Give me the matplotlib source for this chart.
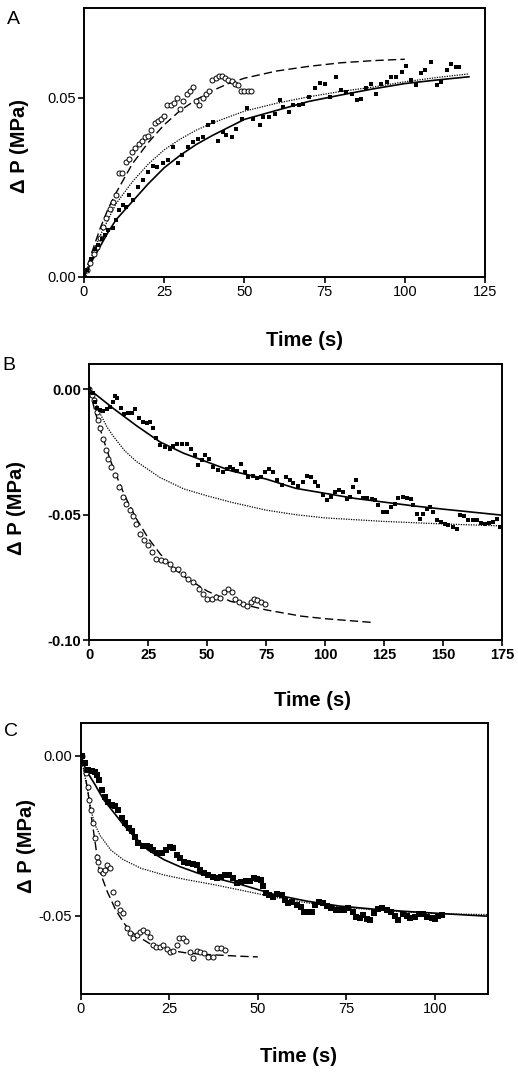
import matplotlib
matplotlib.use("Agg")
import matplotlib.pyplot as plt

plt.rcParams['font.family'] = ['Liberation Sans', 'DejaVu Sans']
plt.rcParams['axes.unicode_minus'] = False

# ---------------- panel A ----------------
a_open_t = [0, 1, 2, 3, 4, 5, 6, 7, 8, 9, 10, 11, 12, 13, 14, 15, 16, 17, 18, 19, 20,
            21, 22, 23, 24, 25, 26, 27, 28, 29, 30, 31, 32, 33, 34, 35, 36, 37, 38, 39, 40,
            41, 42, 43, 44, 45, 46, 47, 48, 49, 50, 51, 52]
a_open_p = [0.000, 0.002, 0.004, 0.0065, 0.0085, 0.011, 0.014, 0.0165, 0.019, 0.021, 0.023,
            0.029, 0.029, 0.032, 0.033, 0.035, 0.036, 0.037, 0.038, 0.039, 0.0395,
            0.041, 0.043, 0.0435, 0.044, 0.045, 0.048, 0.048, 0.0485, 0.050, 0.047,
            0.049, 0.051, 0.052, 0.053, 0.049, 0.048, 0.050, 0.051, 0.052, 0.055,
            0.0555, 0.056, 0.056, 0.0555, 0.055, 0.0548, 0.054, 0.0535, 0.052, 0.052, 0.052, 0.052]

a_fill_t = [0, 1, 2.2, 3.4, 4.5, 5.5, 6.5, 7.6, 8.9, 10, 11, 12.2, 13, 14.1, 15.4, 16.9, 18.5,
            20, 21.6, 22.6, 24.5, 26.3, 27.6, 29.4, 30.7, 32.3, 34, 35.6, 37.2, 38.7, 40.2,
            41.8, 43.2, 44.4, 46, 47.3, 49.1, 50.7, 52.7, 54.8, 55.9, 57.7, 59.5, 61, 62,
            64, 65.2, 67, 68.3, 70, 72, 73.5, 75, 76.6, 78.7, 80.2, 81.8, 83.4, 85, 86.5,
            88, 89.6, 91, 92.7, 94.3, 95.8, 97.4, 99, 100.5, 102, 103.6, 104.9, 106.2,
            108.3, 110, 111.4, 113, 114.5, 116, 117]
a_fill_p = [0.0, 0.0019, 0.005, 0.0079, 0.0088, 0.0107, 0.0118, 0.013, 0.0138, 0.0158, 0.0186,
            0.020, 0.0195, 0.0228, 0.0216, 0.025, 0.027, 0.0293, 0.031, 0.0307, 0.0318,
            0.0326, 0.0363, 0.0317, 0.034, 0.0363, 0.0377, 0.0386, 0.039, 0.0424, 0.0432,
            0.038, 0.0405, 0.0396, 0.039, 0.0414, 0.0442, 0.0473, 0.0442, 0.0424, 0.0447,
            0.0447, 0.0456, 0.0493, 0.0475, 0.046, 0.048, 0.048, 0.0484, 0.0503, 0.0529,
            0.0542, 0.054, 0.0503, 0.0559, 0.0523, 0.0517, 0.0512, 0.0493, 0.0498, 0.0529,
            0.054, 0.0512, 0.054, 0.0545, 0.0559, 0.0559, 0.0573, 0.059, 0.055, 0.0535,
            0.057, 0.0577, 0.060, 0.0535, 0.0545, 0.0577, 0.0596, 0.0587, 0.0587]

a_dash_t = [0, 2.5, 5, 7.5, 10, 15, 20, 25, 30, 35, 40, 45, 50, 60, 70, 80, 90, 100]
a_dash_p = [0, 0.007, 0.0135, 0.019, 0.0235, 0.0315, 0.0375, 0.0425, 0.0465, 0.0495, 0.052,
            0.054, 0.0555, 0.0575, 0.0588, 0.0598, 0.0604, 0.0608]

a_solid_t = [0, 2.5, 5, 7.5, 10, 15, 20, 25, 30, 35, 40, 50, 60, 70, 80, 90, 100, 110, 120]
a_solid_p = [0, 0.0045, 0.0085, 0.0125, 0.016, 0.021, 0.026, 0.0305, 0.034, 0.037, 0.0395,
             0.044, 0.0465, 0.049, 0.0508, 0.0525, 0.054, 0.055, 0.0559]

a_dot_t = [0, 2.5, 5, 7.5, 10, 15, 20, 25, 30, 35, 40, 50, 60, 70, 80, 90, 100, 110, 120]
a_dot_p = [0, 0.006, 0.0115, 0.016, 0.0205, 0.0265, 0.0315, 0.0355, 0.0385, 0.041, 0.043,
           0.0463, 0.0485, 0.0503, 0.0518, 0.053, 0.0545, 0.0557, 0.0567]

# ---------------- panel B ----------------
b_open_t = [0, 1, 2, 3.1, 3.8, 4.5, 5.9, 7.1, 8, 9.2, 10.9, 12.7, 14.1, 15.5, 17.2, 18.4, 20,
            21.5, 23.2, 25, 26.4, 28.3, 30.2, 32.1, 34.2, 35.6, 37.7, 39.9, 42, 44.1, 46.6,
            48.3, 50, 51.9, 53.7, 55.4, 57.1, 59, 60.4, 61.8, 63.6, 65.3, 66.7, 68.4, 69.8,
            71.2, 73, 74.5]
b_open_p = [0, -0.0023, -0.0043, -0.0089, -0.0123, -0.0156, -0.020, -0.0243, -0.0276, -0.031,
            -0.034, -0.039, -0.043, -0.0456, -0.048, -0.0507, -0.0536, -0.0576, -0.060, -0.0623,
            -0.065, -0.0676, -0.068, -0.0683, -0.0696, -0.0716, -0.0716, -0.0736, -0.0756,
            -0.077, -0.0796, -0.0816, -0.0836, -0.0836, -0.0827, -0.0832, -0.081, -0.0796,
            -0.081, -0.0836, -0.085, -0.0856, -0.0863, -0.085, -0.0836, -0.084, -0.085, -0.0856]

b_fill_t = [0, 1.4, 2.4, 3.4, 4.5, 5.9, 7.4, 8.8, 9.9, 10.9, 11.9, 13.3, 14.7, 16.5, 17.9, 19.4,
            21.2, 22.9, 24.3, 25.7, 26.8, 28.3, 30, 32.1, 34.2, 35.6, 37, 39.2, 41.3, 43, 44.8,
            46.3, 47.6, 49, 50.9, 52.6, 54.7, 56.6, 58.3, 59.7, 61.1, 62.8, 64.2, 66, 67.4,
            69.3, 71, 72.7, 74.5, 76.3, 78, 79.7, 81.5, 83.3, 85.1, 86.5, 88.6, 90.5, 92.2,
            93.9, 95.7, 97.1, 99, 100.6, 102.3, 104.2, 106, 107.7, 109.1, 110.5, 111.7, 113.1,
            114.5, 116.2, 117.9, 119.7, 121.2, 122.6, 124.4, 126.1, 127.8, 129.6, 131, 132.9,
            134.6, 136.3, 137.4, 138.8, 140.2, 141.6, 143.1, 144.5, 145.9, 147.3, 149, 150.8,
            152.2, 154.1, 155.8, 157.2, 158.9, 160.7, 162.6, 164.3, 165.9, 167.8, 169.6, 171.3,
            172.7, 174.2]
b_fill_p = [0, -0.0016, -0.005, -0.0076, -0.0083, -0.0085, -0.008, -0.007, -0.005, -0.0027,
            -0.0036, -0.0076, -0.0099, -0.0096, -0.0093, -0.008, -0.0116, -0.0129, -0.0136,
            -0.0129, -0.0156, -0.0196, -0.0223, -0.023, -0.024, -0.0227, -0.0219, -0.0219,
            -0.0219, -0.024, -0.0263, -0.0303, -0.0283, -0.0263, -0.0276, -0.0309, -0.0323,
            -0.033, -0.0316, -0.0309, -0.0316, -0.0325, -0.0296, -0.033, -0.035, -0.0347,
            -0.0352, -0.0349, -0.033, -0.0316, -0.033, -0.0363, -0.0383, -0.0349, -0.036,
            -0.0373, -0.0387, -0.037, -0.0347, -0.0349, -0.037, -0.0387, -0.0423, -0.0443,
            -0.043, -0.041, -0.0403, -0.041, -0.0436, -0.043, -0.039, -0.0363, -0.041, -0.0432,
            -0.0432, -0.0436, -0.0443, -0.0463, -0.049, -0.049, -0.047, -0.0456, -0.0432,
            -0.043, -0.0432, -0.0436, -0.0463, -0.0496, -0.0516, -0.0496, -0.0476, -0.047,
            -0.049, -0.0523, -0.0529, -0.0536, -0.0543, -0.0549, -0.0556, -0.0503, -0.0507,
            -0.052, -0.0523, -0.0523, -0.0533, -0.0539, -0.0533, -0.0529, -0.0516, -0.0549]

b_dash_t = [0, 2.5, 5, 7.5, 10, 15, 20, 25, 30, 35, 40, 50, 60, 75, 90, 100, 120]
b_dash_p = [0, -0.009, -0.017, -0.0244, -0.031, -0.0424, -0.0517, -0.0594, -0.0656, -0.0707,
            -0.0745, -0.0805, -0.0846, -0.088, -0.0905, -0.0915, -0.093]

b_solid_t = [0, 10, 20, 30, 40, 50, 60, 75, 87.5, 100, 112.5, 125, 137.5, 150, 162.5, 175]
b_solid_p = [0, -0.0075, -0.0145, -0.021, -0.0255, -0.029, -0.0325, -0.0358, -0.0395, -0.0415,
             -0.0435, -0.045, -0.0465, -0.0478, -0.049, -0.0502]

b_dot_t = [0, 2.5, 5, 7.5, 10, 15, 20, 25, 30, 40, 50, 60, 75, 87.5, 100, 125, 150, 175]
b_dot_p = [0, -0.005, -0.0105, -0.015, -0.0185, -0.0245, -0.0288, -0.032, -0.0352, -0.0397,
           -0.0425, -0.045, -0.0482, -0.050, -0.0513, -0.0527, -0.0537, -0.0545]

# ---------------- panel C ----------------
c_open_t = [0.3, 1.5, 2.2, 2.4, 2.8, 3.6, 4, 4.5, 5, 5.5, 6.4, 6.9, 7.5, 8.3, 9.2, 10.2, 11.1,
            11.9, 13, 13.9, 14.9, 15.8, 16.7, 17.7, 18.8, 19.6, 20.5, 21.4, 22.4, 23.3, 24.3,
            25.2, 26.2, 27.1, 27.8, 28.8, 29.7, 30.9, 31.8, 32.7, 33.7, 34.8, 36, 37.3, 38.4,
            39.5, 40.7]
c_open_p = [0, -0.0055, -0.0097, -0.0139, -0.017, -0.0211, -0.0258, -0.0316, -0.0331, -0.0357,
            -0.0368, -0.0357, -0.0342, -0.0352, -0.0425, -0.0461, -0.0482, -0.0493, -0.054,
            -0.0555, -0.0571, -0.056, -0.055, -0.0545, -0.055, -0.0566, -0.0592, -0.0599,
            -0.0597, -0.0592, -0.0605, -0.0613, -0.061, -0.0592, -0.0571, -0.0571, -0.0578,
            -0.0613, -0.0633, -0.061, -0.0613, -0.0618, -0.0628, -0.0628, -0.0602, -0.0602,
            -0.0607]

c_fill_t = [0.3, 1.2, 2.2, 3.1, 4, 4.7, 5.3, 5.9, 6.9, 7.8, 8.7, 9.7, 10.6, 11.6, 12.5, 13.5,
            14.4, 15.3, 16.3, 17.5, 18.6, 19.6, 20.5, 21.6, 22.9, 24.1, 25.2, 26.2, 27.1, 28,
            29.2, 30.4, 31.6, 32.7, 33.7, 34.8, 36, 37.3, 38.4, 39.5, 40.7, 42, 43.1, 44.2,
            45.4, 46.7, 47.8, 48.9, 49.9, 50.8, 51.6, 52.3, 53.2, 54.4, 55.5, 56.7, 57.7,
            58.6, 59.8, 61, 62.1, 63, 64.3, 65.2, 66.1, 67.4, 68.5, 69.6, 70.8, 72.1, 73.2,
            74.3, 75.5, 76.8, 77.7, 78.8, 79.8, 80.7, 81.7, 82.8, 84, 85.2, 86.4, 87.5, 88.7,
            89.7, 90.9, 92, 93.1, 94.4, 95.6, 96.7, 97.8, 99.1, 100, 101, 101.9]
c_fill_p = [0, -0.0024, -0.0045, -0.0047, -0.005, -0.006, -0.0076, -0.0107, -0.0128, -0.0144,
            -0.0154, -0.0157, -0.017, -0.0196, -0.0211, -0.0227, -0.0237, -0.0253, -0.0274,
            -0.0282, -0.0282, -0.0284, -0.0295, -0.0305, -0.0305, -0.0295, -0.0284, -0.029,
            -0.031, -0.0321, -0.0331, -0.0336, -0.0339, -0.0342, -0.0357, -0.0366, -0.0373,
            -0.038, -0.0383, -0.0378, -0.0373, -0.0373, -0.0383, -0.0397, -0.0394, -0.0391,
            -0.0391, -0.0383, -0.0386, -0.0389, -0.0409, -0.043, -0.0435, -0.0443, -0.0432,
            -0.0435, -0.0451, -0.0461, -0.0459, -0.0467, -0.0472, -0.049, -0.049, -0.049,
            -0.0467, -0.0456, -0.0461, -0.047, -0.0477, -0.0482, -0.0484, -0.0482, -0.0477,
            -0.049, -0.0503, -0.0508, -0.0498, -0.0511, -0.0514, -0.0493, -0.048, -0.0477,
            -0.0482, -0.049, -0.0501, -0.0514, -0.0495, -0.0501, -0.0508, -0.0505, -0.0495,
            -0.0495, -0.0503, -0.0508, -0.0511, -0.0501, -0.0498]

c_dash_t = [0, 1, 2, 3, 4, 5, 6, 7.5, 10, 12.5, 15, 20, 25, 30, 35, 40, 45, 50]
c_dash_p = [0, -0.0045, -0.011, -0.019, -0.0265, -0.0345, -0.038, -0.0425, -0.0485, -0.0528,
            -0.0557, -0.0591, -0.0608, -0.0617, -0.0621, -0.0624, -0.0627, -0.0629]

c_solid_t = [0, 1.5, 4, 6.5, 9.5, 12, 15, 19, 23.5, 28, 33, 38, 45, 55, 64, 73, 83, 92, 101, 115]
c_solid_p = [0, -0.0045, -0.009, -0.0138, -0.018, -0.0215, -0.0252, -0.0295, -0.0325, -0.0347,
             -0.0367, -0.0383, -0.0402, -0.0435, -0.0455, -0.047, -0.048, -0.0487, -0.0493,
             -0.0502]

c_dot_t = [0, 1, 2, 3, 4, 5.5, 8.5, 12, 17, 23.5, 30, 37.5, 45, 55, 64, 73, 83, 92, 101, 115]
c_dot_p = [0, -0.0055, -0.011, -0.0175, -0.0215, -0.025, -0.0295, -0.0325, -0.0352, -0.0373,
           -0.0388, -0.0403, -0.042, -0.0443, -0.046, -0.0473, -0.0482, -0.0489, -0.0494,
           -0.0497]

W, H = 518, 1075
fig = plt.figure(figsize=(W / 100, H / 100), dpi=100)


def px_axes(l, t, r, b):
    return fig.add_axes([l / W, 1 - b / H, (r - l) / W, (b - t) / H])


def draw(ax, ot, op, ft, fp, dt, dp, st, sp, qt, qp, xlim, ylim, xticks, yticks,
         bold=False, sq=3.2):
    ax.plot(st, sp, color='black', lw=1.2, ls='-')
    ax.plot(qt, qp, color='black', lw=0.9, ls=(0, (1, 1)))
    ax.plot(dt, dp, color='black', lw=1.0, ls=(0, (6, 3)))
    ax.plot(ot, op, ls='none', marker='o', ms=3.6, mfc='white', mec='black', mew=0.7)
    ax.plot(ft, fp, ls='none', marker='s', ms=sq, mfc='black', mec='black', mew=0)
    ax.set_xlim(*xlim)
    ax.set_ylim(*ylim)
    ax.set_xticks(xticks)
    ax.set_yticks(yticks)
    ax.set_yticklabels(['%.2f' % v for v in yticks])
    w = 'bold' if bold else 'normal'
    for lab in ax.get_xticklabels() + ax.get_yticklabels():
        lab.set_fontsize(10.5)
        lab.set_fontweight(w)
    ax.tick_params(direction='out', length=4, width=1.2, pad=2)
    for s in ax.spines.values():
        s.set_linewidth(1.4)


axA = px_axes(84, 8, 485, 277)
draw(axA, a_open_t, a_open_p, a_fill_t, a_fill_p, a_dash_t, a_dash_p,
     a_solid_t, a_solid_p, a_dot_t, a_dot_p,
     (0, 125), (0, 0.0751), [0, 25, 50, 75, 100, 125], [0.0, 0.05])

axB = px_axes(89.3, 364, 502, 640)
draw(axB, b_open_t, b_open_p, b_fill_t, b_fill_p, b_dash_t, b_dash_p,
     b_solid_t, b_solid_p, b_dot_t, b_dot_p,
     (0, 175), (-0.10, 0.0101), [0, 25, 50, 75, 100, 125, 150, 175], [0.0, -0.05, -0.10],
     bold=True)

axC = px_axes(80.7, 723, 488, 994)
draw(axC, c_open_t, c_open_p, c_fill_t, c_fill_p, c_dash_t, c_dash_p,
     c_solid_t, c_solid_p, c_dot_t, c_dot_p,
     (0, 115), (-0.0745, 0.0102), [0, 25, 50, 75, 100], [0.0, -0.05], sq=3.8)

# axis titles and panel letters
for x, y in [(20, 146), (17, 508), (26, 846)]:
    fig.text(x / W, 1 - y / H, 'Δ P (MPa)', rotation=90, fontsize=14.5, fontweight='bold',
             ha='center', va='center')
for x, y in [(304, 341), (312, 701), (299, 1056)]:
    fig.text(x / W, 1 - y / H, 'Time (s)', fontsize=14.5, fontweight='bold',
             ha='center', va='center')
for lbl, x, y in [('A', 13, 20), ('B', 9, 366), ('C', 11, 731)]:
    fig.text(x / W, 1 - y / H, lbl, fontsize=14, ha='center', va='center')

fig.savefig('out.png', dpi=100)
